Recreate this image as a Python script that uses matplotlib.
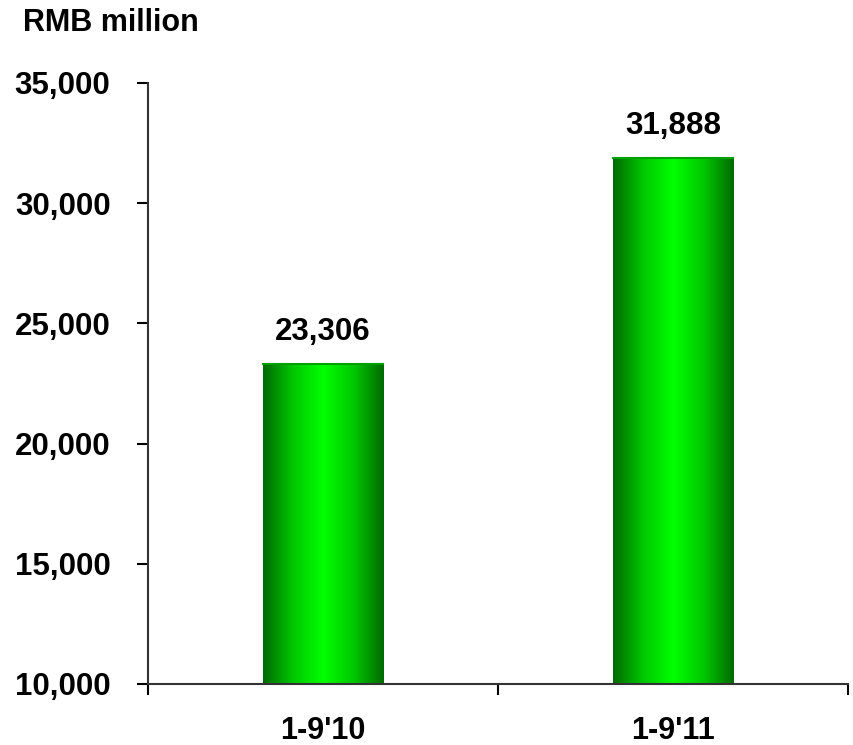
import numpy as np
import matplotlib.pyplot as plt
from matplotlib.colors import LinearSegmentedColormap

plt.rcParams['font.family'] = ['Liberation Sans', 'DejaVu Sans']

categories = ["1-9'10", "1-9'11"]
values = [23306, 31888]
y_ticks = [10000, 15000, 20000, 25000, 30000, 35000]

fig = plt.figure(figsize=(8.54, 7.45), dpi=100)
ax = fig.add_axes([0.1733, 0.0819, 0.8197, 0.8067])

x = np.arange(len(categories))
width = 0.343
bars = ax.bar(x, values, width=width, color='none', edgecolor='none', zorder=2)

# horizontal gradient inside each bar
cmap = LinearSegmentedColormap.from_list(
    'grn', ['#006a00', '#00c800', '#00ff00', '#00c800', '#006a00'])
grad = np.linspace(0, 1, 256).reshape(1, -1)
for b in bars:
    x0, y0 = b.get_x(), b.get_y()
    w, h = b.get_width(), b.get_height()
    ax.imshow(grad, cmap=cmap, aspect='auto', extent=[x0, x0 + w, 10000, y0 + h],
              zorder=2, interpolation='bicubic')
    ax.plot([x0, x0 + w], [y0 + h, y0 + h], color='#00a000', lw=1.5, zorder=3)

for xi, v in zip(x, values):
    ax.text(xi, v + 700, f"{v:,}", ha='center', va='bottom',
            fontsize=22.5, fontweight='bold')

ax.set_xlim(-0.5, 1.5)
ax.set_ylim(10000, 35000)
ax.set_yticks(y_ticks)
ax.set_yticklabels([f"{t:,}" for t in y_ticks], fontsize=22.5, fontweight='bold')
ax.set_xticks([-0.5, 0.5, 1.5], minor=False)
ax.set_xticklabels([])
ax.set_xticks(x, minor=True)
ax.set_xticklabels(categories, minor=True, fontsize=22, fontweight='bold')
ax.tick_params(axis='x', which='minor', length=0, pad=23)
ax.tick_params(axis='x', which='major', length=8, width=1.5, direction='out')
ax.tick_params(axis='y', length=8, width=1.5, direction='out', pad=19)

for s in ['top', 'right']:
    ax.spines[s].set_visible(False)
for s in ['left', 'bottom']:
    ax.spines[s].set_linewidth(1.5)
    ax.spines[s].set_color('#333333')

fig.text(0.027, 0.969, 'RMB million', fontsize=22, fontweight='bold',
         ha='left', va='center')

fig.savefig('out.png', dpi=100)
